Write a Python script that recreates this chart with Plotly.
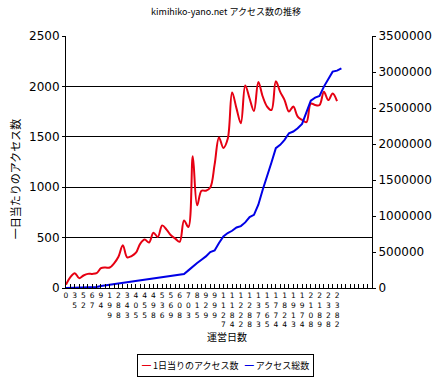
import plotly.graph_objects as go

# Category axis: one category per row of the source table; labels shown on every other category
day_labels = ["0", "35", "52", "67", "94", "199", "288", "343", "405", "455",
              "498", "536", "569", "608", "703", "815", "929", "999", "1127", "1184",
              "1222", "1288", "1373", "1565", "1774", "1824", "1913", "1974", "2108", "2189",
              "2328", "2382"]
n_categories = 71

# 1日当りのアクセス数 (left axis)
daily_access = [33, 108, 147, 98, 124, 140, 140, 147, 196, 203,
                203, 245, 310, 425, 304, 317, 350, 441, 480, 451,
                549, 507, 621, 579, 523, 490, 458, 670, 605, 1308,
                820, 965, 965, 997, 1226, 1494, 1390, 1480, 1940, 1782,
                1635, 2010, 1880, 1756, 2044, 1900, 1800, 1766, 2050, 1945,
                1864, 1750, 1800, 1700, 1668, 1645, 1830, 1815, 1815, 1946,
                1864, 1930, 1854]

# アクセス総数 (right axis)
total_access = [0, 1000, 3000, 5000, 7000, 9000, 11000, 14000, 27000, 36000,
                45000, 53000, 62000, 71000, 80000, 89000, 97000, 106000, 115000, 124000,
                133000, 141000, 150000, 159000, 168000, 177000, 185000, 194000, 245000, 300000,
                347000, 393000, 439000, 499000, 522000, 624000, 717000, 763000, 795000, 841000,
                860000, 911000, 985000, 1017000, 1156000, 1364000, 1572000, 1743000, 1942000, 1988000,
                2057000, 2150000, 2173000, 2219000, 2279000, 2450000, 2603000, 2644000, 2667000, 2797000,
                2912000, 3005000, 3019000, 3051000]

series_names = ["1日当りのアクセス数", "アクセス総数"]
series_colors = ["#E60012", "#0000E6"]

CJK = "Noto Sans CJK JP"
NUM = "DejaVu Sans"

tickvals = list(range(n_categories))
ticktext = []
for i in tickvals:
    k = i // 2
    if i % 2 == 0 and k < len(day_labels):
        ticktext.append("<br>".join(day_labels[k]))
    else:
        ticktext.append("")

fig = go.Figure()
fig.add_trace(go.Scatter(
    x=list(range(len(daily_access))), y=daily_access,
    mode="lines", name=series_names[0], showlegend=False,
    line=dict(color=series_colors[0], width=2, shape="spline", smoothing=1),
    yaxis="y",
))
fig.add_trace(go.Scatter(
    x=list(range(len(total_access))), y=total_access,
    mode="lines", name=series_names[1], showlegend=False,
    line=dict(color=series_colors[1], width=2),
    yaxis="y2",
))

fig.update_layout(
    width=445, height=379, autosize=False,
    margin=dict(l=66, r=73, t=36, b=91),
    paper_bgcolor="white", plot_bgcolor="white",
    font=dict(family=NUM, size=12, color="black"),
    title=dict(text="kimihiko-yano.net アクセス数の推移",
               font=dict(family=CJK, size=9, color="black"),
               x=0.508, xanchor="center", y=0.968, yanchor="middle"),
    xaxis=dict(range=[0, n_categories - 1], tickmode="array",
               tickvals=tickvals, ticktext=ticktext,
               ticks="inside", ticklen=4, tickcolor="black", tickwidth=1,
               tickangle=0,
               tickfont=dict(family=NUM, size=7.5, color="black"),
               showline=True, linecolor="black", linewidth=1,
               showgrid=False, zeroline=False, fixedrange=True,
               automargin=False),
    yaxis=dict(range=[0, 2500], dtick=500, tickformat="d",
               ticks="outside", ticklen=3, tickcolor="black",
               tickfont=dict(family=NUM, size=12, color="black"),
               showline=True, linecolor="black", linewidth=1,
               showgrid=True, gridcolor="black", gridwidth=1,
               zeroline=False, fixedrange=True, automargin=False),
    yaxis2=dict(range=[0, 3500000], dtick=500000, tickformat="d",
                overlaying="y", side="right",
                ticks="outside", ticklen=3, tickcolor="black",
                tickfont=dict(family=NUM, size=12, color="black"),
                showline=True, linecolor="black", linewidth=1,
                showgrid=False, zeroline=False, fixedrange=True,
                automargin=False),
    showlegend=False,
)

# Legend box (line swatch + series name for each series)
legend_text = "&nbsp;&nbsp;&nbsp;".join(
    '<b><span style="color:%s">━</span></b> %s' % (c, n) for c, n in zip(series_colors, series_names)
)
fig.add_annotation(text=legend_text, xref="paper", yref="paper",
                   x=0.521, y=-0.3056, xanchor="center", yanchor="middle",
                   showarrow=False, bordercolor="black", borderwidth=1, borderpad=4,
                   bgcolor="white", font=dict(family=CJK, size=9, color="black"))

fig.add_annotation(text="運営日数", xref="paper", yref="paper",
                   x=0.526, y=-0.194, xanchor="center", yanchor="middle",
                   showarrow=False, font=dict(family=CJK, size=10, color="black"))
fig.add_annotation(text="一日当たりのアクセス数", xref="paper", yref="paper",
                   x=-0.166, y=0.4325, xanchor="center", yanchor="middle",
                   textangle=-90, showarrow=False,
                   font=dict(family=CJK, size=11, color="black"))

fig.write_html("out.html", config={"displayModeBar": False},
               post_script="document.body.style.margin='0';document.body.style.padding='0';")
